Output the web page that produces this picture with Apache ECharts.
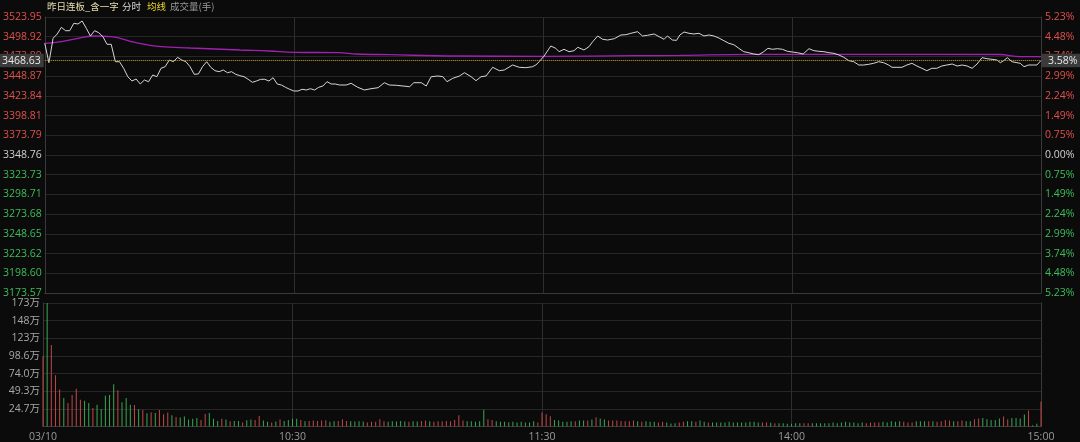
<!DOCTYPE html>
<html><head><meta charset="utf-8">
<script src="https://cdn.jsdelivr.net/npm/echarts@6/dist/echarts.min.js"></script>
<style>html,body{margin:0;padding:0;background:#0b0b0b;}#c{width:1080px;height:442px;}</style>
</head><body><div id="c"></div>
<script>
const prevClose = 3348.76;
const priceTickLabels = ['3173.57','3198.60','3223.62','3248.65','3273.68','3298.71','3323.73','3348.76','3373.79','3398.81','3423.84','3448.87','3473.89','3498.92','3523.95'];
const pctTickLabels = ['5.23%','4.48%','3.74%','2.99%','2.24%','1.49%','0.75%','0.00%','0.75%','1.49%','2.24%','2.99%','3.74%','4.48%','5.23%'];
const volStep = 24.66;
const volTickLabels = ['','24.7万','49.3万','74.0万','98.6万','123万','148万','173万'];
const timeLabels = ['03/10','10:30','11:30','14:00','15:00'];
const headerTexts = ['昨日连板_含一字','分时','均线','成交量(手)'];

const priceMin = [0,1,2,3,4,5,6,7,8,9,10,11,12,13,14,15,16,17,18,19,20,21,22,23,24,25,26,27,28,29,30,31,32,33,34,35,36,37,38,39,40,41,42,43,44,45,46,47,48,49,50,51,52,53,54,55,56,57,58,59,60,61,62,63,64,65,66,67,68,69,70,71,
72.6,73.8,75.4,77.0,78.6,80.3,81.8,83.0,84.7,86.3,87.9,88.9,90.7,91.9,93.1,94.7,95.9,96.9,98.3,99.9,101.1,102.7,103.9,105.1,106.3,107.9,109.5,110.7,112.7,114.3,115.9,117.5,118.3,119.1,120.3,121.9,123.1,123.9,125.1,126.3,127.5,128.4,129.9,131.1,132.0,133.2,134.4,135.6,137.2,138.8,140.0,141.2,142.8,144.0,145.2,146.8,148.0,149.2,150.0,151.2,152.2,153.0,154.0,155.2,156.4,157.6,158.8,160.0,161.2,162.4,163.6,164.8,166.0,167.2,168.4,169.6,170.8,172.0,173.2,174.2,175.3,176.5,177.7,178.9,180.1,181.3,182.7,184.1,185.3,186.5,187.7,188.9,190.1,191.3,192.5,193.7,194.9,196.1,197.3,198.5,199.7,200.9,202.1,203.3,204.1,205.3,206.5,207.7,208.9,210.1,211.3,212.5,213.7,214.9,216.1,217.3,218.6,219.8,221.0,222.2,223.4,224.6,225.8,227.0,228.2,229.4,230.2,231.0,231.9,233.0,234.2,235.0,235.9,237.0,238.2,239.0,240.0];
const priceVal = [3490.56,3465.93,3496.91,3502.37,3510.87,3506.56,3506.56,3515.95,3515.06,3518.87,
3509.60,3499.83,3506.56,3504.02,3498.94,3489.29,3489.29,3467.20,3467.20,3458.82,
3448.16,3442.70,3445.24,3438.89,3443.97,3441.81,3450.32,3448.16,3458.82,3460.86,
3469.36,3467.20,3472.79,3469.36,3467.20,3460.86,3451.21,3451.59,3460.86,3467.20,
3460.09,3455.78,3454.51,3456.67,3453.24,3454.51,3451.21,3449.43,3448.16,3444.86,
3441.05,3442.70,3444.86,3444.86,3442.70,3446.89,3438.89,3437.62,3434.70,3432.17,
3430.01,3430.01,3432.17,3431.28,3432.93,3431.28,3434.70,3436.35,3441.81,3438.89,
3438.89,3437.62,
3437.62,3439.78,3434.70,3431.28,3432.93,3434.20,3440.54,3437.62,3437.24,3436.35,3435.47,3440.54,3440.54,3436.35,3448.16,3449.05,3448.16,3441.81,3446.13,3449.05,3453.24,3448.16,3443.08,3448.16,3449.05,3460.09,3455.78,3456.67,3463.01,3460.09,3459.59,3460.86,3463.01,3467.20,3474.44,3487.13,3484.21,3479.90,3482.95,3479.90,3481.17,3485.48,3482.06,3486.25,3492.59,3499.83,3495.64,3494.75,3496.40,3501.10,3501.48,3503.26,3505.29,3499.83,3500.72,3502.37,3498.94,3495.64,3499.83,3494.75,3494.30,3501.10,3504.91,3503.26,3502.37,3503.26,3499.83,3501.10,3499.83,3497.29,3493.86,3490.56,3488.79,3484.21,3479.90,3478.63,3476.98,3476.09,3479.90,3484.21,3482.95,3483.71,3482.95,3480.41,3479.52,3478.63,3476.98,3483.71,3481.17,3480.41,3479.90,3478.63,3477.87,3475.71,3472.79,3468.47,3467.20,3463.01,3463.01,3463.90,3465.17,3467.20,3465.93,3463.01,3460.09,3460.09,3460.09,3463.01,3465.17,3461.74,3458.82,3455.78,3458.82,3458.82,3461.74,3463.01,3464.28,3461.74,3463.01,3461.74,3458.82,3464.28,3472.28,3471.01,3470.25,3469.36,3465.93,3468.47,3472.28,3467.20,3465.93,3465.17,3460.86,3463.01,3463.01,3463.01,3468.63];

const avgMin = [0,4,8,12,16,22,28,35,41,47,54,60,71,75,83,99,120,142,153,170,200,230,235,240];
const avgVal = [3490.56,3492.59,3496.91,3499.83,3498.94,3491.32,3486.25,3484.60,3483.33,3482.06,3480.79,3479.14,3478.63,3476.98,3476.09,3474.44,3474.06,3474.82,3475.33,3476.60,3476.60,3476.35,3473.55,3473.55];

// volume per minute (万手), minutes 0..240
const volume = [99,172.6,114,71.6,51.7,40,33,44,52.6,37.4,
36,33,25.8,30.5,24.5,43,44,59,50.8,34,
39.7,30.5,30,24,23,18.5,20,19,23,17,
19.4,15.7,13.4,12.5,13.9,9.7,11,12,9.2,17.5,
19,11,7.8,11,9.7,7.4,7.8,7.8,5.5,8.8,
9.7,9.2,14.8,8.3,6.5,5.5,7,9.7,7.8,9.2,
11,11,
9.2,7.4,7.8,8.3,7.8,8.3,8.8,6.5,7.4,7.8,
10.2,7.8,7.4,6.9,7.4,6.9,5.5,6.5,6.5,10.2,
7.4,6.5,7.4,6.9,7.8,6.9,6.5,7.4,6.9,7.8,
8.3,7.4,6.5,7.4,7.4,7.8,7.4,9.2,15.7,8.3,
7.4,7.4,6.5,7.4,23.5,10.2,9.2,7.4,6.5,6.5,
6.0,6.5,5.5,6.5,5.5,5.5,7.4,5.5,19.4,17.1,
14.3,9.2,8.3,6.5,6.5,7.4,7.4,8.3,8.3,8.3,
9.7,12.9,11.1,9.7,8.3,8.3,8.3,7.8,7.4,7.4,
8.3,7.4,6.5,7.4,6.5,6.5,5.5,6.5,5.5,
4.2,4.6,5.5,6.5,7.4,7.4,6.5,8.3,6.5,5.5,
5.5,5.5,5.5,5.5,6.5,5.5,5.5,5.5,5.5,6.5,
6.5,5.5,5.5,5.5,5.1,4.6,4.6,4.6,3.7,3.7,
4.6,4.6,4.6,4.6,4.6,4.6,4.6,4.6,4.6,5.5,
4.6,5.5,6.5,5.5,5.5,4.6,5.5,4.6,5.5,5.5,
5.5,6.5,5.5,7.4,6.5,7.4,6.5,5.5,5.5,7.4,
7.4,7.4,7.4,7.4,6.5,7.4,9.2,8.3,7.4,7.4,
8.3,7.4,7.4,10.2,11.1,12,10.2,9.2,9.2,11.1,
13.9,10.2,12,12,11.1,16.6,22.2,1.8,3.7,35.1];
// 1 = up minute (red), -1 = down minute (green)
const volDir = [1,-1,1,1,1,-1,1,1,1,1,
-1,-1,1,-1,-1,-1,-1,-1,1,-1,
-1,-1,1,-1,1,-1,1,-1,1,1,
1,-1,1,-1,-1,-1,-1,-1,1,1,
-1,-1,-1,1,-1,1,-1,-1,1,-1,
-1,1,1,-1,-1,1,-1,1,-1,-1,
-1,-1,
1,-1,1,1,1,1,1,-1,-1,1,
1,1,-1,-1,-1,-1,1,1,1,1,
1,-1,-1,-1,-1,-1,1,-1,-1,1,
1,-1,1,1,1,1,1,1,1,1,
-1,-1,-1,-1,-1,1,1,-1,-1,-1,
-1,-1,-1,-1,-1,-1,-1,1,1,1,
1,-1,-1,-1,-1,-1,1,-1,-1,1,
-1,1,-1,-1,1,1,1,1,1,1,
1,-1,1,-1,-1,-1,1,1,-1,
-1,-1,1,1,-1,-1,1,-1,-1,1,
-1,-1,-1,-1,-1,-1,-1,-1,-1,-1,
-1,-1,1,1,-1,1,-1,-1,-1,-1,
-1,-1,1,1,-1,-1,-1,-1,-1,-1,
-1,-1,-1,-1,-1,-1,-1,1,1,1,
1,-1,-1,-1,-1,-1,1,1,1,-1,
-1,-1,1,-1,1,1,1,1,-1,1,
1,-1,-1,1,1,-1,-1,-1,-1,-1,
1,1,-1,-1,-1,-1,1,-1,-1,1];

const FONT = "'Open Sans','Noto Sans CJK SC',sans-serif";
const CJK = "'Noto Sans CJK SC',sans-serif";
const RED = '#e0504c', GREEN = '#3dbd5a';
const BAR_RED = '#c04848', BAR_GREEN = '#3aa656';
const GRIDC = '#262626';

const pMin = parseFloat(priceTickLabels[0]);
const pMax = parseFloat(priceTickLabels[priceTickLabels.length - 1]);
const mid = priceTickLabels.indexOf(prevClose.toFixed(2));
const lastPrice = priceVal[priceVal.length - 1];
const lastPct = ((lastPrice - prevClose) / prevClose * 100).toFixed(2) + '%';

const priceData = priceMin.map((m, i) => [m, priceVal[i]]);
const avgData = avgMin.map((m, i) => [m, avgVal[i]]);
const volData = volume.map((v, i) => [i, v]);

const chart = echarts.init(document.getElementById('c'), null, {renderer: 'canvas'});
const tickColor = (v) => { const i = Math.round(v); return i > mid ? RED : (i < mid ? GREEN : '#d0d0d0'); };

const headerLeft = [47, 122, 147, 170];
const headerColor = ['#e6dfb0', '#d8d8d8', '#e8d62a', '#9a9a9a'];

chart.setOption({
  backgroundColor: '#0b0b0b',
  animation: false,
  textStyle: {fontFamily: FONT},
  title: headerTexts.map((t, i) => ({
    text: t, left: headerLeft[i], top: 2, padding: 0,
    textStyle: {fontSize: 9.5, fontWeight: 'normal', color: headerColor[i], fontFamily: CJK}
  })),
  grid: [
    {left: 43, right: 39, top: 17, height: 276},
    {left: 43, right: 39, top: 303, height: 124.6}
  ],
  xAxis: [
    {type: 'value', gridIndex: 0, min: 0, max: 240, interval: 60,
     axisLabel: {show: false}, axisTick: {show: false},
     axisLine: {show: true, onZero: false, lineStyle: {color: '#3a3a3a'}},
     splitLine: {show: true, lineStyle: {color: '#2e2e2e'}}},
    {type: 'value', gridIndex: 1, min: 0, max: 240, interval: 60,
     axisTick: {show: false},
     axisLine: {show: true, onZero: false, lineStyle: {color: '#3a3a3a'}},
     splitLine: {show: true, lineStyle: {color: '#2e2e2e'}},
     axisLabel: {show: true, color: '#9a9a9a', fontSize: 10.5, margin: 5, fontFamily: FONT,
       showMinLabel: true, showMaxLabel: true,
       formatter: (v) => timeLabels[Math.round(v / 60)] || ''}}
  ],
  yAxis: [
    {type: 'value', gridIndex: 0, min: pMin, max: pMax, show: false},
    {type: 'value', gridIndex: 0, position: 'left', min: 0, max: priceTickLabels.length - 1, interval: 1,
     axisTick: {show: false},
     axisLine: {show: true, lineStyle: {color: '#3a3a3a'}},
     splitLine: {show: true, lineStyle: {color: GRIDC}},
     axisLabel: {fontSize: 10.5, margin: 3, fontFamily: FONT,
       color: tickColor,
       formatter: (v) => priceTickLabels[Math.round(v)]}},
    {type: 'value', gridIndex: 0, position: 'right', min: 0, max: pctTickLabels.length - 1, interval: 1,
     axisTick: {show: false},
     axisLine: {show: true, lineStyle: {color: '#3a3a3a'}},
     splitLine: {show: false},
     axisLabel: {fontSize: 10.5, margin: 4, fontFamily: FONT,
       color: tickColor,
       formatter: (v) => pctTickLabels[Math.round(v)]}},
    {type: 'value', gridIndex: 1, position: 'left', min: 0, max: volStep * (volTickLabels.length - 1), interval: volStep,
     axisTick: {show: false},
     axisLine: {show: true, lineStyle: {color: '#3a3a3a'}},
     splitLine: {show: true, lineStyle: {color: GRIDC}},
     axisLabel: {fontSize: 10.5, margin: 3, color: '#a8a8a8', fontFamily: FONT,
       formatter: (v) => volTickLabels[Math.round(v / volStep)] || ''}},
    {type: 'value', gridIndex: 1, position: 'right', min: 0, max: 1,
     axisTick: {show: false}, axisLabel: {show: false}, splitLine: {show: false},
     axisLine: {show: true, lineStyle: {color: '#3a3a3a'}}}
  ],
  series: [
    {type: 'line', name: '分时', xAxisIndex: 0, yAxisIndex: 0, data: priceData,
     showSymbol: false, symbol: 'none', lineStyle: {color: '#d6d6d6', width: 1}, z: 3,
     markLine: {
       silent: true, symbol: 'none', animation: false,
       lineStyle: {type: 'dotted', color: '#c9a530', width: 1},
       data: [
         {yAxis: lastPrice, label: {show: true, position: 'start', formatter: lastPrice.toFixed(2),
           color: '#e8e8e8', fontSize: 10.5, fontFamily: FONT, backgroundColor: '#3b3b3b', padding: [2, 3, 1, 3], distance: 1}},
         {yAxis: lastPrice, lineStyle: {color: 'rgba(0,0,0,0)', type: 'solid'}, label: {show: true, position: 'end', formatter: lastPct,
           color: '#e8e8e8', fontSize: 10.5, fontFamily: FONT, backgroundColor: '#3b3b3b', padding: [2, 6, 1, 6], distance: 1}}
       ]
     }},
    {type: 'line', name: '均线', xAxisIndex: 0, yAxisIndex: 0, data: avgData, smooth: 0.4,
     showSymbol: false, symbol: 'none', lineStyle: {color: '#a020b0', width: 1.3}, z: 2},
    {type: 'bar', name: '成交量', xAxisIndex: 1, yAxisIndex: 3, data: volData, barWidth: 1,
     itemStyle: {color: (p) => volDir[p.dataIndex] > 0 ? BAR_RED : BAR_GREEN}}
  ]
});
</script>
</body></html>
